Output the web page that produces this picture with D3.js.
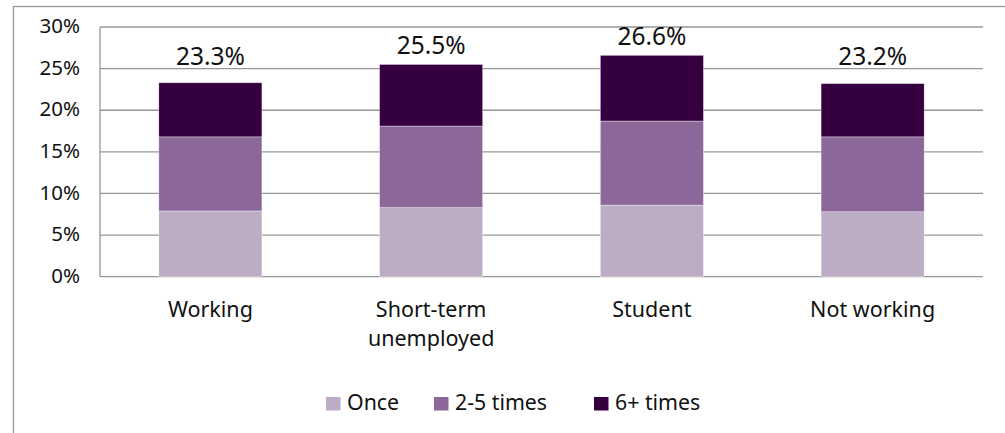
<!DOCTYPE html>
<html>
<head>
<meta charset="utf-8">
<script src="https://cdn.jsdelivr.net/npm/d3@7"></script>
<style>
  html, body { margin: 0; padding: 0; background: #fff; }
  svg { display: block; }
  text { font-family: "Noto Sans", sans-serif; fill: #111; }
</style>
</head>
<body>
<svg id="chart" width="1005" height="433"></svg>
<script>
// ---- data ----
const categories = ["Working", "Short-term\nunemployed", "Student", "Not working"];
const seriesNames = ["Once", "2-5 times", "6+ times"];
const once      = [7.9, 8.3, 8.6, 7.8];
const twoToFive = [8.9, 9.8, 10.1, 9.0];
const sixPlus   = [6.5, 7.4, 7.9, 6.4];
const totals    = [23.3, 25.5, 26.6, 23.2];
const yTicks    = [0, 5, 10, 15, 20, 25, 30];
const colors    = ["#bcacc4", "#8c6799", "#360040"];

// ---- layout ----
const svg = d3.select("#chart");
const plot = { left: 100, right: 983, top: 27, bottom: 276.7 };

// outer frame (extends beyond the picture on right and bottom)
svg.append("rect")
  .attr("x", 13.5).attr("y", 6.5)
  .attr("width", 1100).attr("height", 600)
  .attr("fill", "none").attr("stroke", "#9a9a9a").attr("stroke-width", 1.3);

const x = d3.scaleBand()
  .domain(categories)
  .range([plot.left, plot.right])
  .paddingInner(0.533)
  .paddingOuter(0.2665);

const y = d3.scaleLinear()
  .domain([0, 30])
  .range([plot.bottom, plot.top]);

// gridlines
svg.append("g")
  .selectAll("line")
  .data(yTicks)
  .join("line")
  .attr("x1", plot.left).attr("x2", plot.right)
  .attr("y1", d => y(d)).attr("y2", d => y(d))
  .attr("stroke", "#969696").attr("stroke-width", 1.3);

// y axis line
svg.append("line")
  .attr("x1", plot.left).attr("x2", plot.left)
  .attr("y1", y(30)).attr("y2", y(0))
  .attr("stroke", "#969696").attr("stroke-width", 1.3);

// y axis labels
const yAxis = d3.axisLeft(y).tickValues(yTicks).tickFormat(d => d + "%").tickSize(0).tickPadding(20);
const gy = svg.append("g").attr("transform", `translate(${plot.left},0)`).call(yAxis);
gy.select(".domain").remove();
gy.selectAll("text")
  .attr("font-family", "Noto Sans, sans-serif")
  .attr("font-size", 20.5)
  .attr("fill", "#111")
  .attr("dy", "0.28em");

// stacked data
const rows = categories.map((c, i) => ({ cat: c, "Once": once[i], "2-5 times": twoToFive[i], "6+ times": sixPlus[i] }));
const stack = d3.stack().keys(seriesNames)(rows);

svg.append("g")
  .selectAll("g")
  .data(stack)
  .join("g")
  .attr("fill", (d, i) => colors[i])
  .selectAll("rect")
  .data(d => d)
  .join("rect")
  .attr("x", d => x(d.data.cat))
  .attr("width", x.bandwidth())
  .attr("y", d => y(d[1]))
  .attr("height", d => y(d[0]) - y(d[1]))
  .attr("stroke", "#ffffff").attr("stroke-width", 0.6).attr("stroke-opacity", 0.6);

// total labels
svg.append("g")
  .selectAll("text")
  .data(totals)
  .join("text")
  .attr("x", (d, i) => x(categories[i]) + x.bandwidth() / 2)
  .attr("y", d => y(Math.max(d, 24.2)) - 10)
  .attr("text-anchor", "middle")
  .attr("font-size", 24.5)
  .text(d => d.toFixed(1) + "%");

// category labels
const catG = svg.append("g");
categories.forEach(c => {
  const t = catG.append("text")
    .attr("x", x(c) + x.bandwidth() / 2)
    .attr("y", 316.7)
    .attr("text-anchor", "middle")
    .attr("font-size", 21.5);
  c.split("\n").forEach((line, j) => {
    t.append("tspan")
      .attr("x", x(c) + x.bandwidth() / 2)
      .attr("dy", j === 0 ? 0 : 29)
      .text(line);
  });
});

// legend
const legendX = [326, 434, 594];
const lg = svg.append("g");
seriesNames.forEach((s, i) => {
  lg.append("rect")
    .attr("x", legendX[i]).attr("y", 397)
    .attr("width", 14.5).attr("height", 13.5)
    .attr("fill", colors[i]);
  lg.append("text")
    .attr("x", legendX[i] + 21).attr("y", 410)
    .attr("font-size", 21.3)
    .text(s);
});
</script>
</body>
</html>
